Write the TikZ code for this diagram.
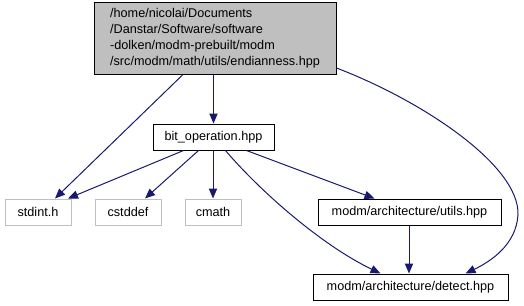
\documentclass[tikz,border=0pt]{standalone}
\usepackage{fontspec}
\setmainfont{Liberation Sans}
\usetikzlibrary{arrows.meta}
\definecolor{edgeblue}{HTML}{191970}
\definecolor{boxgray}{HTML}{BFBFBF}
\definecolor{rootfill}{HTML}{BFBFBF}
\begin{document}
\begin{tikzpicture}[x=0.75pt,y=-0.75pt,
  every node/.style={font=\fontsize{9.5}{12}\selectfont, inner sep=0pt, line width=0.75pt},
  filebox/.style={draw=black, fill=white, minimum height=26*0.75pt},
  extbox/.style={draw=boxgray, fill=white, minimum height=26*0.75pt},
  rootbox/.style={draw=black, fill=rootfill, align=left, minimum height=72*0.75pt},
  dep/.style={draw=edgeblue, line width=0.75pt, -{Triangle[length=7.5pt,width=6.2pt]}, fill=none}
]
\useasboundingbox (0,0) rectangle (524,305);

% nodes
\node[rootbox, minimum width=242*0.75pt] (root) at (215,38)
  {/home/nicolai/Documents\\/Danstar/Software/software\\-dolken/modm-prebuilt/modm\\/src/modm/math/utils/endianness.hpp};
\node[filebox, minimum width=121*0.75pt] (bit) at (213.5,137) {bit\_operation.hpp};
\node[extbox, minimum width=66*0.75pt] (stdint) at (38,212) {stdint.h};
\node[extbox, minimum width=66*0.75pt] (cstddef) at (128,212) {cstddef};
\node[extbox, minimum width=56*0.75pt] (cmath) at (213,212) {cmath};
\node[filebox, minimum width=183*0.75pt] (utils) at (409.5,212) {modm/architecture/utils.hpp};
\node[filebox, minimum width=195*0.75pt] (detect) at (410.5,287) {modm/architecture/detect.hpp};

% dependencies of endianness.hpp
\draw[dep] ([xshift=-32*0.75pt]root.south) -- ([xshift=17*0.75pt]stdint.north);
\draw[dep] (bit.north |- root.south) -- (bit.north);
\draw[dep] ([yshift=-30*0.75pt]root.east)
  .. controls +(84*0.75pt,-32*0.75pt) and +(2*0.75pt,50*0.75pt) .. ([shift={(518*0.75pt,-215*0.75pt)}]0,0)
  .. controls +(-2*0.75pt,-30*0.75pt) and +(25*0.75pt,12*0.75pt) .. ([xshift=55*0.75pt]detect.north);

% dependencies of bit_operation.hpp
\draw[dep] ([xshift=-30*0.75pt]bit.south) -- ([xshift=30*0.75pt]stdint.north);
\draw[dep] ([xshift=-15*0.75pt]bit.south) -- ([xshift=17*0.75pt]cstddef.north);
\draw[dep] (cmath.north |- bit.south) -- (cmath.north);
\draw[dep] ([xshift=33*0.75pt]bit.south) -- ([xshift=-35*0.75pt]utils.north);
\draw[dep] ([xshift=12*0.75pt]bit.south)
  .. controls +(34*0.75pt,-40*0.75pt) and +(-60*0.75pt,29*0.75pt) .. ([xshift=-30*0.75pt]detect.north);

% dependency of utils.hpp
\draw[dep] (utils.south -| 409,0) -- (detect.north -| 409,0);
\end{tikzpicture}
\end{document}
